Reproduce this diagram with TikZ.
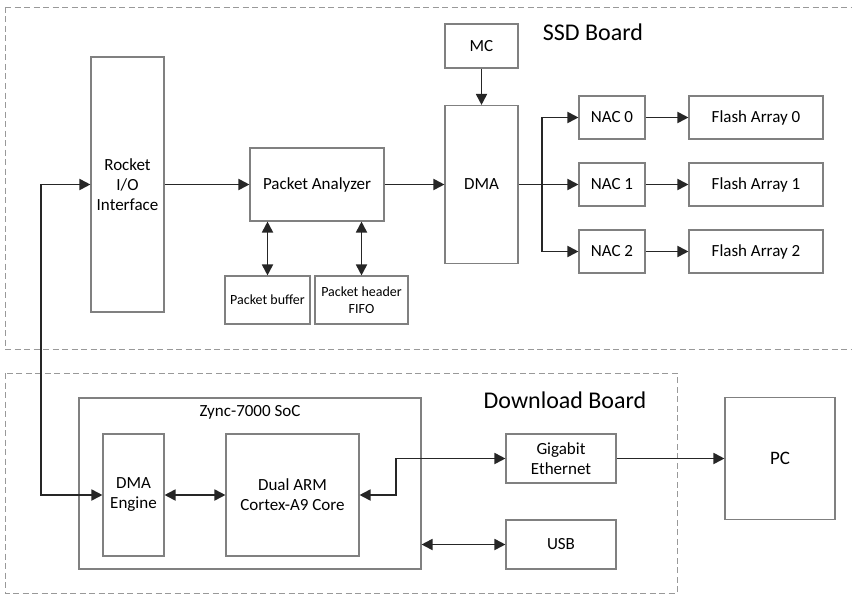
\documentclass[tikz,border=0pt]{standalone}
\usepackage{fontspec}
\setmainfont{Carlito}
\usetikzlibrary{arrows.meta,calc}
\begin{document}
\begin{tikzpicture}[x=1pt,y=-1pt,
  box/.style={draw=black!50,line width=1.1pt,fill=white,inner sep=1pt,align=center,font=\fontsize{17}{20}\selectfont},
  sbox/.style={box,font=\fontsize{14}{17}\selectfont},
  conn/.style={draw=black!85,line width=1.8pt,-{Triangle[length=11pt,width=11pt]}},
  bconn/.style={draw=black!85,line width=1.8pt,{Triangle[length=11pt,width=11pt]}-{Triangle[length=11pt,width=11pt]}},
  board/.style={draw=black!40,line width=0.9pt,dash pattern=on 6pt off 3.5pt},
  title/.style={font=\fontsize{24}{28}\selectfont,inner sep=0pt},
]
\useasboundingbox (0,0) rectangle (854,594);
% boards
\draw[board] (5,7) -- (851,7);
\draw[board] (5,7) -- (5,349);
\draw[board] (5,349) -- (851,349);
\draw[board] (5,373) rectangle (677,593);
\node[title] (ssdt) at (593,32) {SSD Board};
\node[title] (dlt) at (565,400) {Download Board};
% SSD nodes
\node[box,minimum width=73pt,minimum height=255pt] (rocket) at (127.5,184.5) {Rocket\\I/O\\Interface};
\node[box,minimum width=134pt,minimum height=73pt] (pa) at (317,184.5) {Packet Analyzer};
\node[sbox,minimum width=85pt,minimum height=48pt] (pbuf) at (267.5,300) {Packet buffer};
\node[sbox,minimum width=93pt,minimum height=48pt] (pfifo) at (361.5,300) {Packet header\\FIFO};
\node[box,minimum width=73pt,minimum height=44pt] (mc) at (481.5,46) {MC};
\node[box,minimum width=73pt,minimum height=158pt] (dma) at (481.5,184.5) {DMA};
\node[box,minimum width=66pt,minimum height=43pt] (nac0) at (612,117.5) {NAC 0};
\node[box,minimum width=66pt,minimum height=43pt] (nac1) at (612,184.5) {NAC 1};
\node[box,minimum width=66pt,minimum height=43pt] (nac2) at (612,251.5) {NAC 2};
\node[box,minimum width=134pt,minimum height=43pt] (fa0) at (756,117.5) {Flash Array 0};
\node[box,minimum width=134pt,minimum height=43pt] (fa1) at (756,184.5) {Flash Array 1};
\node[box,minimum width=134pt,minimum height=43pt] (fa2) at (756,251.5) {Flash Array 2};
% Download nodes
\node[box,minimum width=342pt,minimum height=171pt] (zync) at (250,483.5) {};
\node[box,draw=none,fill=none] (zynct) at (250,412) {Zync-7000 SoC};
\node[box,minimum width=61pt,minimum height=122pt] (dmae) at (133.5,495) {DMA\\Engine};
\node[box,minimum width=133pt,minimum height=122pt] (arm) at (292.5,495) {Dual ARM\\Cortex-A9 Core};
\node[box,minimum width=110pt,minimum height=49pt] (gig) at (561,458.5) {Gigabit\\Ethernet};
\node[box,minimum width=110pt,minimum height=49pt] (usb) at (561,544.5) {USB};
\node[box,font=\fontsize{19}{22}\selectfont,minimum width=110pt,minimum height=122pt] (pc) at (780,458.5) {PC};
% connectors
\coordinate (lc) at (41,340);
\coordinate (br) at (542,184.5);
\coordinate (ec) at (396,477);
\draw[conn] (rocket.east) -- (pa.west);
\draw[conn] (pa.east) -- (dma.west);
\draw[conn] (mc.south) -- (dma.north);
\draw[draw=black!85,line width=1.8pt] (dma.east) -- (br);
\draw[conn] (br) |- (nac0.west);
\draw[conn] (br) -- (nac1.west);
\draw[conn] (br) |- (nac2.west);
\draw[conn] (nac0.east) -- (fa0.west);
\draw[conn] (nac1.east) -- (fa1.west);
\draw[conn] (nac2.east) -- (fa2.west);
\draw[bconn] (pbuf.north) -- (pbuf.north |- pa.south);
\draw[bconn] (pfifo.north) -- (pfifo.north |- pa.south);
\draw[bconn] (rocket.west) -| (lc) |- (dmae.west);
\draw[bconn] (dmae.east) -- (arm.west);
\draw[bconn] (arm.east) -| (ec) |- (gig.west);
\draw[conn] (gig.east) -- (pc.west);
\draw[bconn] (zync.east |- usb.west) -- (usb.west);
\end{tikzpicture}
\end{document}
